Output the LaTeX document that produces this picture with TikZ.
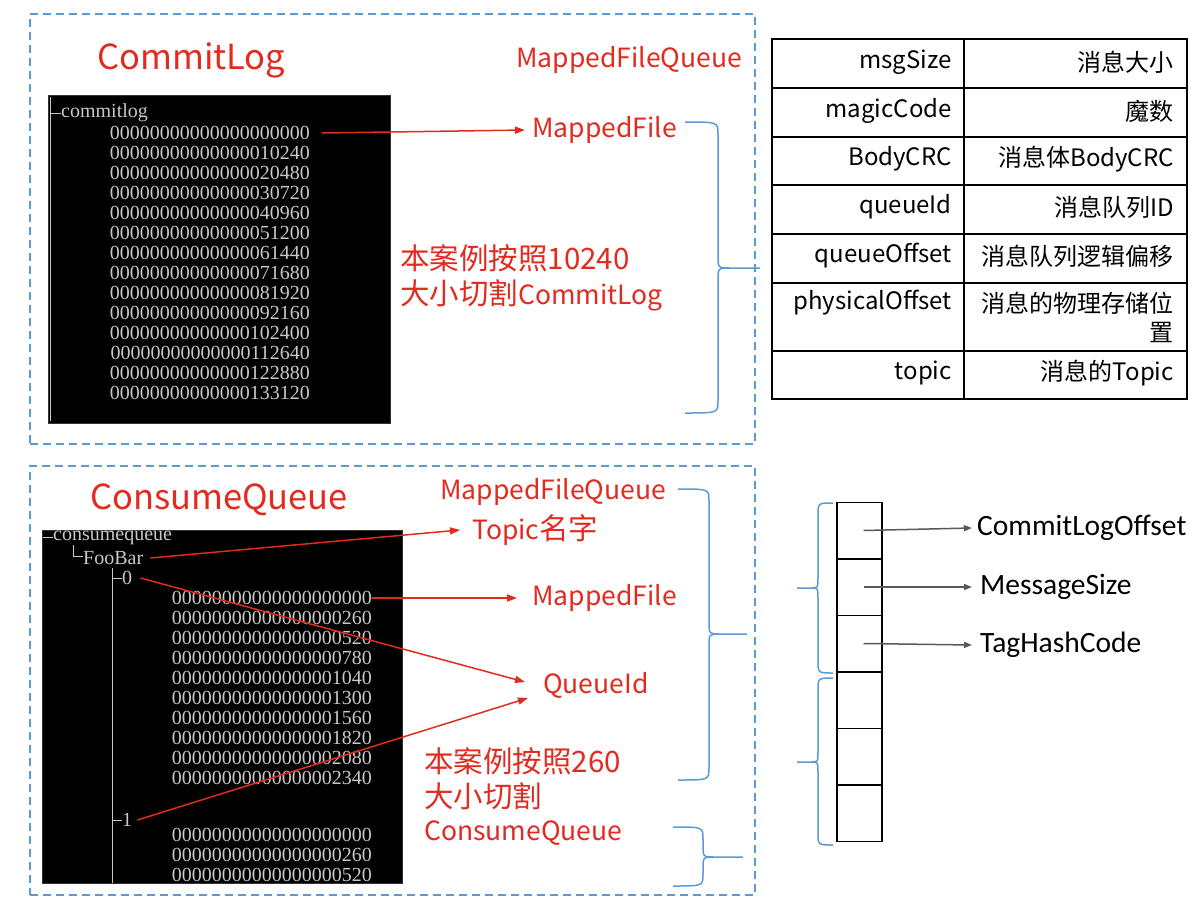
\documentclass[tikz,border=0pt]{standalone}
\usepackage{fontspec}
\setmainfont{Noto Sans CJK SC}
\newfontfamily\termfont{Liberation Serif}
\newfontfamily\labelfont{Carlito}
\usetikzlibrary{arrows.meta, positioning}
\definecolor{SlideRed}{HTML}{E32A1F}
\definecolor{SlideBlue}{HTML}{5B9BD5}
\definecolor{TermGray}{HTML}{C8C8C8}
\definecolor{ArrowGray}{HTML}{595959}
% CJK and digits sit a little larger than the Latin letters
\newcommand{\zh}[1]{{\fontsize{29.5}{35}\selectfont #1}}

\begin{document}
\begin{tikzpicture}[
    x=1pt, y=-1pt,
    every node/.style={inner sep=0pt},
    zone/.style={rectangle, draw=SlideBlue, line width=1.6pt, dash pattern=on 8pt off 5pt},
    terminal/.style={rectangle, fill=black, draw=black!80},
    termtext/.style={text=TermGray, font=\termfont\fontsize{20}{20}\selectfont},
    treeline/.style={draw=TermGray, line width=1pt},
    title/.style={text=SlideRed, font=\fontsize{34.5}{40}\selectfont, anchor=west},
    note/.style={text=SlideRed, font=\fontsize{26.5}{35}\selectfont, anchor=west, align=left},
    field/.style={font=\fontsize{24}{29}\selectfont, anchor=east, align=right},
    slot/.style={rectangle, draw=black, line width=1.5pt, minimum width=45pt, minimum height=56.5pt},
    part/.style={font=\labelfont\fontsize{29.5}{34}\selectfont, anchor=west},
    redarrow/.style={draw=SlideRed, line width=1.5pt, -{Triangle[length=10pt, width=7pt]}},
    grayarrow/.style={draw=ArrowGray, line width=1.5pt, -{Triangle[length=8pt, width=6pt]}},
    curly/.style={draw=SlideBlue, line width=1.5pt}
]
\fill[white] (0,0) rectangle (1195,898);
\useasboundingbox (0,0) rectangle (1195,898);

% Dashed frames
\node[zone, minimum width=725pt, minimum height=430pt] (clzone) at (392.5,229) {};
\node[zone, minimum width=725pt, minimum height=429pt] (cqzone) at (392.5,680.5) {};

% CommitLog
\node[title] (cltitle) at (97,60) {CommitLog};
\node[terminal, minimum width=342pt, minimum height=328pt] (clterm) at (219,259) {};
\draw[treeline] (50,97) -- (50,421);
\draw[treeline] (50,113) -- (61,113);
\node[termtext, anchor=west] (clroot) at (61,113) {commitlog};
\foreach \num [count=\i] in {00000000000000000000, 00000000000000010240,
    00000000000000020480, 00000000000000030720, 00000000000000040960,
    00000000000000051200, 00000000000000061440, 00000000000000071680,
    00000000000000081920, 00000000000000092160, 00000000000000102400,
    00000000000000112640, 00000000000000122880, 00000000000000133120}
  \node[termtext, anchor=east] (cl\i) at (310,113+20*\i) {\num};

\node[note] (clmfq) at (516,60) {MappedFileQueue};
\node[note] (clmf) at (532,130) {MappedFile};
\node[note] (clcut) at (400,278) {\zh{本案例按照10240}\\\zh{大小切割}CommitLog};
\draw[redarrow] ([xshift=12pt]cl1.east) -- ([xshift=-7pt]clmf.west);

% Message layout table
\draw[line width=1.5pt] (772,39) rectangle (1187,399);
\draw[line width=1.5pt] (964,39) -- (964,399);
\foreach \y in {88,137,185,234,283,351}
  \draw[line width=1.5pt] (772,\y) -- (1187,\y);
\foreach \key/\val/\y [count=\i] in {msgSize/消息大小/62, magicCode/魔数/111,
    BodyCRC/消息体BodyCRC/159, queueId/消息队列ID/207,
    queueOffset/消息队列逻辑偏移/256, topic/消息的Topic/373}
{
  \node[field] (k\i) at (952,\y) {\key};
  \node[field] (v\i) at (1174,\y) {\val};
}
\node[field] (kphys) at (952,303) {physicalOffset};
\node[field] (vphys) at (1174,317) {消息的物理存储位\\置};

% ConsumeQueue
\node[title] (cqtitle) at (90,500) {ConsumeQueue};
\node[terminal, minimum width=360pt, minimum height=353pt] (cqterm) at (222,706.5) {};
\draw[treeline] (43,537) -- (53,537);
\node[termtext, anchor=west] (cqroot) at (53,538) {consumequeue};
\draw[treeline] (73,545) |- (83,556);
\node[termtext, anchor=west] (topic) at (83,558) {FooBar};
\draw[treeline] (112,568) -- (112,883);
\coordinate (t0) at (112,578);
\coordinate (t1) at (112,820);
\draw[treeline] (t0) -- ++(10,0);
\draw[treeline] (t1) -- ++(10,0);
\node[termtext, right=10pt of t0] (q0) {0};
\node[termtext, right=10pt of t1] (q1) {1};
\foreach \num [count=\i] in {00000000000000000000, 00000000000000000260,
    00000000000000000520, 00000000000000000780, 00000000000000001040,
    00000000000000001300, 00000000000000001560, 00000000000000001820,
    00000000000000002080, 00000000000000002340}
  \node[termtext, anchor=east] (cqa\i) at (372,578+20*\i) {\num};
\foreach \num [count=\i] in {00000000000000000000, 00000000000000000260,
    00000000000000000520}
  \node[termtext, anchor=east] (cqb\i) at (372,815+20*\i) {\num};

\node[note] (cqmfq) at (440,492) {MappedFileQueue};
\node[note] (topicname) at (472,530) {Topic\zh{名字}};
\node[note] (cqmf) at (532,598) {MappedFile};
\node[note] (qid) at (543,685) {QueueId};
\node[note] (cqcut) at (424,779) {\zh{本案例按照260}\\\zh{大小切割}};
\node[note] (cqname) at (424,833) {ConsumeQueue};

\draw[redarrow] ([xshift=7pt]topic.east) -- ([xshift=-12pt]topicname.west);
\draw[redarrow] (cqa1.east) -- ([xshift=-15pt]cqmf.west);
\draw[redarrow] ([xshift=8pt]q0.east) -- ([xshift=-18pt, yshift=3pt]qid.west);
\draw[redarrow] ([xshift=5pt]q1.east) -- ([xshift=-15pt, yshift=-13pt]qid.west);

% Braces
\foreach \xa/\xb/\xt/\ya/\ym/\yb in {685/718/760/122/268/413, 678/709/747/489/634/780,
    673/703/743/827/857/886, 833/818/797/503/588/673, 833/818/797/678/762/845}
  \draw[curly] (\xa,\ya) .. controls (\xb,\ya) .. (\xb,\ya+12) -- (\xb,\ym-12)
    .. controls (\xb,\ym) .. ({\xb+0.3*(\xt-\xb)},\ym) -- (\xt,\ym)
    -- ({\xb+0.3*(\xt-\xb)},\ym) .. controls (\xb,\ym) .. (\xb,\ym+12)
    -- (\xb,\yb-12) .. controls (\xb,\yb) .. (\xa,\yb);

% ConsumeQueue entry
\foreach \i in {1,...,6}
  \node[slot] (s\i) at (859.5,474+56.5*\i) {};
\node[part] (clo) at (977,528) {CommitLogOffset};
\node[part] (msz) at (980,587) {MessageSize};
\node[part] (thc) at (980,645) {TagHashCode};
\draw[grayarrow] ([xshift=4pt]s1.center) -- ([xshift=-5pt]clo.west);
\draw[grayarrow] ([xshift=4pt]s2.center) -- ([xshift=-8pt]msz.west);
\draw[grayarrow] ([xshift=4pt]s3.center) -- ([xshift=-8pt]thc.west);

\end{tikzpicture}
\end{document}
